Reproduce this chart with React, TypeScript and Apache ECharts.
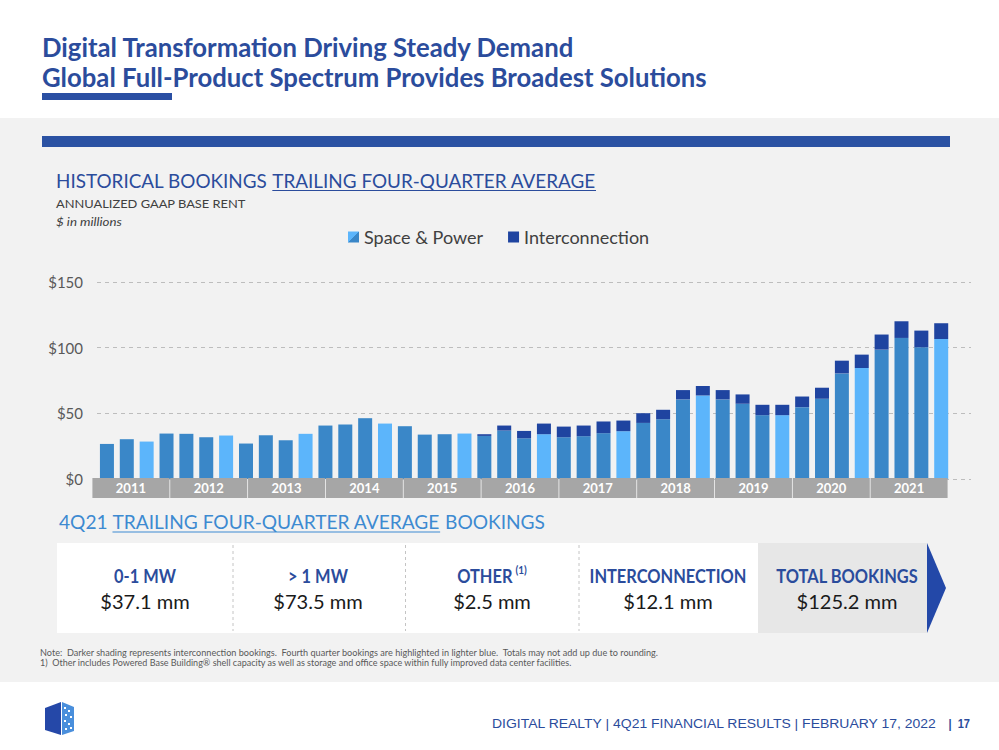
import React, { useEffect, useRef } from "react";
import * as echarts from "echarts";

// ---------- data ----------
const quarters = [
  "2Q11", "3Q11", "4Q11",
  "1Q12", "2Q12", "3Q12", "4Q12",
  "1Q13", "2Q13", "3Q13", "4Q13",
  "1Q14", "2Q14", "3Q14", "4Q14",
  "1Q15", "2Q15", "3Q15", "4Q15",
  "1Q16", "2Q16", "3Q16", "4Q16",
  "1Q17", "2Q17", "3Q17", "4Q17",
  "1Q18", "2Q18", "3Q18", "4Q18",
  "1Q19", "2Q19", "3Q19", "4Q19",
  "1Q20", "2Q20", "3Q20", "4Q20",
  "1Q21", "2Q21", "3Q21", "4Q21",
];
const spacePower = [
  26.7, 30.3, 28.5,
  34.6, 34.4, 31.8, 33.1,
  27.0, 33.3, 29.5, 34.4,
  40.7, 41.5, 46.3, 42.2,
  40.2, 33.8, 34.1, 34.6,
  32.8, 36.9, 31.0, 34.1,
  31.8, 32.6, 34.9, 36.4,
  42.7, 45.5, 60.6, 63.6,
  60.6, 57.3, 48.6, 48.6,
  54.7, 61.1, 80.4, 84.5,
  98.5, 107.4, 100.3, 106.6,
];
const interconnection = [
  0, 0, 0,
  0, 0, 0, 0,
  0, 0, 0, 0,
  0, 0, 0, 0,
  0, 0, 0, 0,
  1.3, 3.8, 5.6, 8.1,
  8.1, 8.1, 8.9, 8.1,
  7.4, 7.2, 7.1, 7.2,
  7.1, 7.1, 7.9, 7.9,
  8.1, 8.4, 9.7, 10.2,
  11.5, 12.7, 12.7, 12.0,
];
const years = ["2011", "2012", "2013", "2014", "2015", "2016", "2017", "2018", "2019", "2020", "2021"];
const yMin = 0;
const yMax = 150;
const yStep = 50;

const summaryLabels = ["0-1 MW", "> 1 MW", "OTHER", "INTERCONNECTION", "TOTAL BOOKINGS"];
const summaryValues = [37.1, 73.5, 2.5, 12.1, 125.2];

// ---------- styles ----------
const DARK = "#3a87c8";
const LIGHT = "#5cb5fb";
const INTER = "#1f44a0";
const NAVY = "#2b4c9c";
const SKY = "#3d8ad1";

export default function App() {
  const ref = useRef<HTMLDivElement>(null);

  useEffect(() => {
    if (!ref.current) return;
    const chart = echarts.init(ref.current, null, { renderer: "svg" });

    const cvs = document.createElement("canvas");
    const ctx = cvs.getContext("2d")!;
    const cssFont = (o: any) =>
      `${o.italic ? "italic " : ""}${o.weight || "normal"} ${o.size}px ${o.family || "Lato"}`;
    const mw = (t: string, o: any) => {
      ctx.font = cssFont(o);
      return ctx.measureText(t).width;
    };
    const txt = (text: string, x: number, y: number, o: any) => {
      const sx = o.width ? o.width / mw(text, o) : o.sx ?? 1;
      const align = o.align || "left";
      return {
        type: "text",
        x,
        y,
        scaleX: sx,
        silent: true,
        style: {
          text,
          fontSize: o.size,
          fontFamily: o.family || "Lato",
          fontWeight: o.weight || "normal",
          fontStyle: o.italic ? "italic" : "normal",
          fill: o.color || "#000",
          align,
          textAlign: align,
          verticalAlign: "middle",
          textVerticalAlign: "middle",
        },
      };
    };

    const els: any[] = [];
    // titles
    els.push(txt("Digital Transformation Driving Steady Demand", 42, 47, { size: 26, weight: "bold", color: NAVY, width: 533 }));
    els.push(txt("Global Full-Product Spectrum Provides Broadest Solutions", 42, 77, { size: 26, weight: "bold", color: NAVY, width: 665 }));
    els.push({ type: "rect", shape: { x: 42, y: 93, width: 130, height: 7 }, style: { fill: "#2a4fa3" }, silent: true });
    els.push({ type: "rect", shape: { x: 42, y: 136, width: 908, height: 11 }, style: { fill: "#2b52a3" }, silent: true });

    // chart heading
    {
      const h1 = "HISTORICAL BOOKINGS ";
      const h2 = "TRAILING FOUR-QUARTER AVERAGE";
      const o = { size: 19, color: NAVY };
      const x0 = 56, x1 = 596;
      const s = (x1 - x0) / mw(h1 + h2, o);
      const x2 = x0 + mw(h1, o) * s;
      els.push(txt(h1, x0, 180.5, { ...o, sx: s }));
      els.push(txt(h2, x2, 180.5, { ...o, sx: s }));
      els.push({ type: "line", shape: { x1: x2, y1: 190.5, x2: x1, y2: 190.5 }, style: { stroke: NAVY, lineWidth: 1.2 }, silent: true });
    }
    els.push(txt("ANNUALIZED GAAP BASE RENT", 56, 203.5, { size: 12, color: "#404040", width: 190 }));
    els.push(txt("$ in millions", 56, 221.5, { size: 12, italic: true, color: "#404040", width: 66 }));

    // bottom heading
    {
      const p1 = "4Q21 ";
      const p2 = "TRAILING FOUR-QUARTER AVERAGE";
      const p3 = " BOOKINGS";
      const o = { size: 19, color: SKY };
      const x0 = 59, x1 = 545;
      const s = (x1 - x0) / mw(p1 + p2 + p3, o);
      const xa = x0 + mw(p1, o) * s;
      const xb = xa + mw(p2, o) * s;
      els.push(txt(p1, x0, 522, { ...o, sx: s }));
      els.push(txt(p2, xa, 522, { ...o, sx: s }));
      els.push(txt(p3, xb, 522, { ...o, sx: s }));
      els.push({ type: "line", shape: { x1: xa, y1: 532, x2: xb, y2: 532 }, style: { stroke: SKY, lineWidth: 1.2 }, silent: true });
    }

    // summary boxes
    els.push({ type: "rect", shape: { x: 57, y: 543, width: 701, height: 90 }, style: { fill: "#ffffff" }, silent: true });
    els.push({ type: "rect", shape: { x: 758, y: 543, width: 169, height: 90 }, style: { fill: "#e7e7e7" }, silent: true });
    els.push({ type: "polygon", shape: { points: [[927, 543], [946, 588], [927, 633]] }, style: { fill: "#2348a8" }, silent: true });
    [233, 405.5, 579].forEach((x) => {
      els.push({ type: "line", shape: { x1: x, y1: 545, x2: x, y2: 631 }, style: { stroke: "#c4c4c4", lineWidth: 1, lineDash: [3, 3] }, silent: true });
    });
    const centers = [145, 318, 492, 668, 847];
    const labO = { size: 18, weight: "bold", color: NAVY };
    const labS = 157 / mw("INTERCONNECTION", labO);
    const valO = { size: 20, color: "#1a1a1a" };
    const valS = 101 / mw("$125.2 mm", valO);
    summaryLabels.forEach((lab, i) => {
      if (lab === "OTHER") {
        const wO = mw(lab, labO) * labS;
        const supO = { size: 11, weight: "bold", color: NAVY };
        const wS = mw("(1)", supO) * labS;
        const left = centers[i] - (wO + 3 + wS) / 2;
        els.push(txt(lab, left, 576, { ...labO, sx: labS }));
        els.push(txt("(1)", left + wO + 3, 570, { ...supO, sx: labS }));
      } else {
        els.push(txt(lab, centers[i], 576, { ...labO, sx: labS, align: "center" }));
      }
      els.push(txt("$" + summaryValues[i].toFixed(1) + " mm", centers[i], 601, { ...valO, sx: valS, align: "center" }));
    });

    // notes
    els.push(txt("Note:  Darker shading represents interconnection bookings.  Fourth quarter bookings are highlighted in lighter blue.  Totals may not add up due to rounding.", 40, 653, { size: 9, color: "#595959", width: 620 }));
    els.push(txt("1)  Other includes Powered Base Building\u00ae shell capacity as well as storage and office space within fully improved data center facilities.", 40, 662.5, { size: 9, color: "#595959", width: 533 }));

    // logo
    els.push({ type: "polygon", shape: { points: [[45, 708], [61, 702], [61, 735], [45, 730]] }, style: { fill: "#2548a8" }, silent: true });
    els.push({ type: "polygon", shape: { points: [[62, 702], [74, 707], [74, 731], [62, 735]] }, style: { fill: "#4a8fdc" }, silent: true });
    [[64, 707], [68, 710], [65, 714], [70, 716], [64, 720], [68, 723], [65, 728], [70, 727]].forEach(([x, y]) => {
      els.push({ type: "rect", shape: { x, y, width: 2, height: 2 }, style: { fill: "#ffffff" }, silent: true });
    });

    // footer
    els.push(txt("DIGITAL REALTY | 4Q21 FINANCIAL RESULTS | FEBRUARY 17, 2022", 492, 724, { size: 13, family: "'Liberation Sans'", color: NAVY, width: 446 }));
    els.push(txt("|  17", 970, 724, { size: 13, family: "'Liberation Sans'", weight: "bold", color: NAVY, align: "right", sx: 0.85 }));

    const slots = [...quarters, ""];
    const option: any = {
      animation: false,
      textStyle: { fontFamily: "Lato" },
      legend: {
        left: 348,
        top: 228,
        padding: 0,
        itemWidth: 11,
        itemHeight: 11,
        itemGap: 25,
        textStyle: { fontSize: 18, color: "#404040", fontFamily: "Lato" },
        data: [
          {
            name: "Space & Power",
            icon: "rect",
            itemStyle: {
              color: new echarts.graphic.LinearGradient(0, 0, 1, 1, [
                { offset: 0, color: LIGHT },
                { offset: 0.5, color: LIGHT },
                { offset: 0.5, color: DARK },
                { offset: 1, color: DARK },
              ]),
            },
          },
          { name: "Interconnection", icon: "rect", itemStyle: { color: INTER } },
        ],
      },
      grid: [
        { left: 97, top: 282, width: 874, height: 197 },
        { left: 92, top: 478, width: 856, height: 20 },
      ],
      xAxis: [
        { type: "category", gridIndex: 0, data: slots, axisLine: { show: false }, axisTick: { show: false }, axisLabel: { show: false } },
        { type: "category", gridIndex: 1, data: years, axisLine: { show: false }, axisTick: { show: false }, axisLabel: { show: false } },
      ],
      yAxis: [
        {
          type: "value",
          gridIndex: 0,
          min: yMin,
          max: yMax,
          interval: yStep,
          axisLine: { show: false },
          axisTick: { show: false },
          axisLabel: { formatter: (v: number) => "$" + v, color: "#595959", fontSize: 15, fontFamily: "Lato", margin: 14 },
          splitLine: { lineStyle: { color: "#bdbdbd", type: [4, 4], width: 1 } },
        },
        { type: "value", gridIndex: 1, min: 0, max: 1, show: false },
      ],
      series: [
        {
          name: "Space & Power",
          type: "bar",
          stack: "total",
          xAxisIndex: 0,
          yAxisIndex: 0,
          barWidth: 14,
          itemStyle: { color: DARK },
          data: spacePower.map((v, i) => ({
            value: v,
            itemStyle: { color: quarters[i].startsWith("4Q") ? LIGHT : DARK },
          })),
        },
        {
          name: "Interconnection",
          type: "bar",
          stack: "total",
          xAxisIndex: 0,
          yAxisIndex: 0,
          barWidth: 14,
          itemStyle: { color: INTER },
          data: interconnection,
        },
        {
          name: "years",
          type: "bar",
          xAxisIndex: 1,
          yAxisIndex: 1,
          barWidth: 77,
          silent: true,
          itemStyle: { color: "#a6a6a6" },
          label: { show: true, position: "inside", formatter: "{b}", color: "#ffffff", fontWeight: "bold", fontSize: 13, fontFamily: "Lato" },
          data: years.map(() => 1),
          z: 3,
        },
      ],
      graphic: { elements: els },
    };
    chart.setOption(option);
    return () => chart.dispose();
  }, []);

  return (
    <div
      ref={ref}
      style={{
        position: "fixed",
        left: 0,
        top: 0,
        width: 999,
        height: 750,
        background: "linear-gradient(to bottom, #ffffff 0px, #ffffff 118px, #f2f2f2 118px, #f2f2f2 682px, #ffffff 682px)",
      }}
    />
  );
}
